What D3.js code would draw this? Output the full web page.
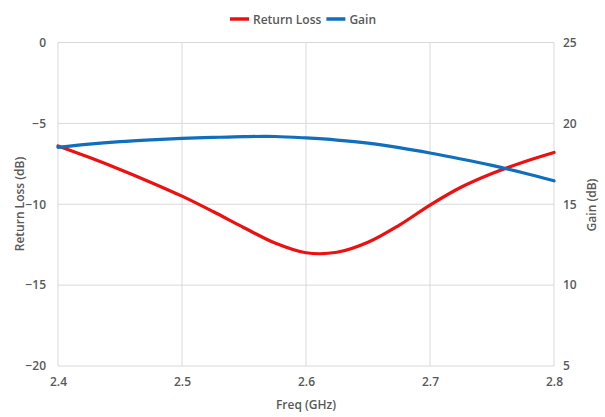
<!DOCTYPE html>
<html><head><meta charset="utf-8">
<script src="https://cdn.jsdelivr.net/npm/d3@7"></script>
<style>body{margin:0;background:#fff}svg{display:block}text{font-family:"Open Sans",Lato,sans-serif;font-weight:600;fill:#595959}</style>
</head><body><svg id="c" width="605" height="417"></svg>
<script>
const freq = [2.400,2.425,2.450,2.475,2.500,2.525,2.550,2.575,2.600,2.625,2.650,2.675,2.700,2.725,2.750,2.775,2.800];
const returnLoss = [-6.4,-7.1,-7.85,-8.65,-9.5,-10.45,-11.45,-12.4,-13.0,-12.97,-12.35,-11.3,-10.05,-8.95,-8.1,-7.4,-6.8];
const gain = [18.52,18.72,18.87,18.98,19.07,19.13,19.18,19.19,19.10,18.97,18.78,18.50,18.17,17.80,17.40,16.95,16.45];
const xTicks = [2.4,2.5,2.6,2.7,2.8];
const yLeftTicks = [0,-5,-10,-15,-20];
const yRightTicks = [25,20,15,10,5];
const seriesNames = ["Return Loss","Gain"];
const colors = ["#ee1010","#0f6fbd"];

const svg = d3.select("#c");
const L=58,R=554,T=42.5,B=366;
const x = d3.scaleLinear().domain([2.4,2.8]).range([L,R]);
const yL = d3.scaleLinear().domain([-20,0]).range([B,T]);
const yR = d3.scaleLinear().domain([5,25]).range([B,T]);

// gridlines
svg.append("g").selectAll("line").data(yLeftTicks).join("line")
  .attr("x1",L).attr("x2",R).attr("y1",d=>yL(d)).attr("y2",d=>yL(d))
  .attr("stroke","#d9d9d9").attr("stroke-width",1);
svg.append("g").selectAll("line").data(xTicks).join("line")
  .attr("x1",d=>x(d)).attr("x2",d=>x(d)).attr("y1",T).attr("y2",B)
  .attr("stroke","#d9d9d9").attr("stroke-width",1);

// axes (labels only)
const ax = svg.append("g").attr("transform",`translate(0,${B})`)
  .call(d3.axisBottom(x).tickValues(xTicks).tickFormat(d3.format(".1f")).tickSize(0).tickPadding(11));
const ayL = svg.append("g").attr("transform",`translate(${L},0)`)
  .call(d3.axisLeft(yL).tickValues(yLeftTicks).tickFormat(d3.format("d")).tickSize(0).tickPadding(12));
const ayR = svg.append("g").attr("transform",`translate(${R},0)`)
  .call(d3.axisRight(yR).tickValues(yRightTicks).tickFormat(d3.format("d")).tickSize(0).tickPadding(9));
[ax,ayL,ayR].forEach(g=>{g.select(".domain").remove();g.selectAll("text").attr("font-size",12).style("font-family",'"Open Sans",sans-serif').attr("fill","#595959");});

// curves
const lineL = d3.line().x((d,i)=>x(freq[i])).y(d=>yL(d)).curve(d3.curveCatmullRom.alpha(0.5));
const lineR = d3.line().x((d,i)=>x(freq[i])).y(d=>yR(d)).curve(d3.curveCatmullRom.alpha(0.5));
svg.append("path").attr("d",lineL(returnLoss)).attr("fill","none").attr("stroke",colors[0]).attr("stroke-width",3.2).attr("stroke-linecap","round");
svg.append("path").attr("d",lineR(gain)).attr("fill","none").attr("stroke",colors[1]).attr("stroke-width",3.2).attr("stroke-linecap","round");

// axis titles
svg.append("text").attr("transform","translate(24,204) rotate(-90)").attr("text-anchor","middle").attr("font-size",12).text("Return Loss (dB)");
svg.append("text").attr("transform","translate(596,205) rotate(-90)").attr("text-anchor","middle").attr("font-size",12).text("Gain (dB)");
svg.append("text").attr("x",306).attr("y",409).attr("text-anchor","middle").attr("font-size",12).text("Freq (GHz)");

// legend (laid out from measured text widths, centred)
const leg = svg.append("g");
let cx = 0;
seriesNames.forEach((n,i)=>{
  leg.append("line").attr("x1",cx).attr("x2",cx+19).attr("y1",19).attr("y2",19).attr("stroke",colors[i]).attr("stroke-width",3.5);
  const t = leg.append("text").attr("x",cx+23).attr("y",23.5).attr("font-size",12).text(n);
  cx += 23 + t.node().getComputedTextLength() + 5;
});
const lw = cx - 5;
leg.attr("transform",`translate(${303 - lw/2},0)`);
</script></body></html>
